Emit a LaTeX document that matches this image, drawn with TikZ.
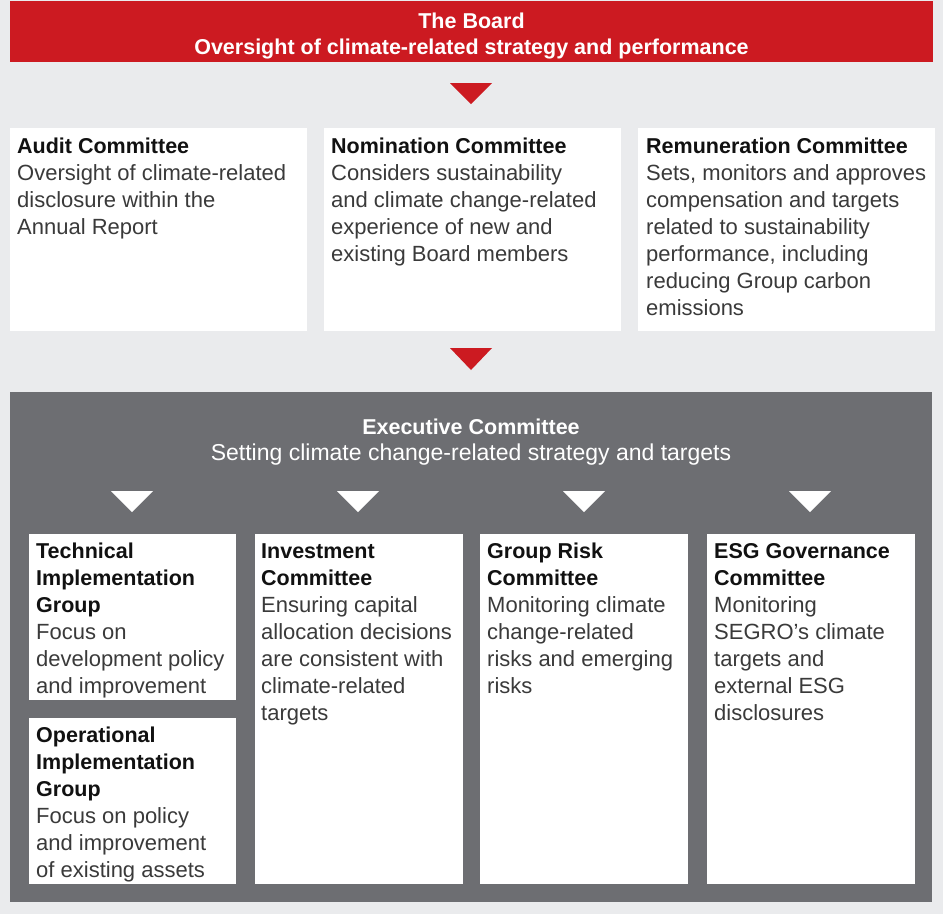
\documentclass[tikz,border=0pt]{standalone}
\usepackage{fontspec}
\setmainfont{Liberation Sans}
\usetikzlibrary{calc}

\definecolor{pagebg}{HTML}{EAEBED}
\definecolor{boardred}{HTML}{CC1A21}
\definecolor{execgray}{HTML}{6D6E72}
\definecolor{bodytext}{HTML}{3A3A3A}
\definecolor{headtext}{HTML}{111111}

% bold heading line inside a card
\newcommand\cardhead[1]{{\bfseries\fontsize{21.5}{27}\selectfont\color{headtext}#1}}

\begin{document}
\begin{tikzpicture}[x=1pt,y=-1pt,
  panel/.style={fill=#1, draw=none, inner sep=0pt, outer sep=0pt, anchor=north west},
  card/.style={panel=white},
  cardtext/.style={anchor=north west, inner sep=0pt, align=left,
    text=bodytext, font=\fontsize{22}{27}\selectfont},
  headline/.style={anchor=north, inner sep=0pt, align=center,
    text=white, font=\bfseries\fontsize{21.5}{26}\selectfont},
  redtri/.style={fill=boardred, draw=none},
  whitetri/.style={fill=white, draw=none}
]
% page
\useasboundingbox (0,0) rectangle (943,914);
\fill[pagebg] (0,0) rectangle (943,914);

% the Board
\node[panel=boardred, minimum width=923pt, minimum height=61pt] (board) at (10,1) {};
\node[headline] (board-t) at ($(board.north)+(0,8.6)$)
  {\strut The Board\\Oversight of climate-related strategy and performance};

% board committees
\node[card, minimum width=297pt, minimum height=203pt] (audit) at (10,128) {};
\node[card, minimum width=297pt, minimum height=203pt] (nomination) at (324,128) {};
\node[card, minimum width=297pt, minimum height=203pt] (remuneration) at (638,128) {};

\node[cardtext] (audit-t) at ($(audit.north west)+(7,6.1)$)
  {\strut\cardhead{Audit Committee}\\
   Oversight of climate-related\\disclosure within the\\Annual Report};
\node[cardtext] (nomination-t) at ($(nomination.north west)+(7,6.1)$)
  {\strut\cardhead{Nomination Committee}\\
   Considers sustainability\\and climate change-related\\experience of new and\\existing Board members};
\node[cardtext] (remuneration-t) at ($(remuneration.north west)+(8,6.1)$)
  {\strut\cardhead{Remuneration Committee}\\
   Sets, monitors and approves\\compensation and targets\\related to sustainability\\
   performance, including\\reducing Group carbon\\emissions};

% arrows from the Board
\fill[redtri] (450,83) -- (492,83) -- (471,104) -- cycle;
\fill[redtri] (450,348) -- (492,348) -- (471,370) -- cycle;

% Executive Committee
\node[panel=execgray, minimum width=922pt, minimum height=510pt] (exec) at (10,392) {};
\node[headline] (exec-t) at ($(exec.north)+(0,23.6)$)
  {\strut Executive Committee\\\mdseries\fontsize{23}{26}\selectfont Setting climate change-related strategy and targets};

\foreach \cx in {132,358,584,810}
  \fill[whitetri] (\cx-21,491) -- (\cx+21,491) -- (\cx,512) -- cycle;

% executive sub-committees
\node[card, minimum width=207pt, minimum height=166pt] (technical) at (29,534) {};
\node[card, minimum width=207pt, minimum height=166pt] (operational) at (29,718) {};
\node[card, minimum width=208pt, minimum height=350pt] (investment) at (255,534) {};
\node[card, minimum width=208pt, minimum height=350pt] (risk) at (480,534) {};
\node[card, minimum width=208pt, minimum height=350pt] (esg) at (707,534) {};

\node[cardtext] (technical-t) at ($(technical.north west)+(7,5.1)$)
  {\strut\cardhead{Technical}\\\cardhead{Implementation}\\\cardhead{Group}\\
   Focus on\\development policy\\and improvement};
\node[cardtext] (operational-t) at ($(operational.north west)+(7,5.1)$)
  {\strut\cardhead{Operational}\\\cardhead{Implementation}\\\cardhead{Group}\\
   Focus on policy\\and improvement\\of existing assets};
\node[cardtext] (investment-t) at ($(investment.north west)+(6,5.1)$)
  {\strut\cardhead{Investment}\\\cardhead{Committee}\\
   Ensuring capital\\allocation decisions\\are consistent with\\climate-related\\targets};
\node[cardtext] (risk-t) at ($(risk.north west)+(7,5.1)$)
  {\strut\cardhead{Group Risk}\\\cardhead{Committee}\\
   Monitoring climate\\change-related\\risks and emerging\\risks};
\node[cardtext] (esg-t) at ($(esg.north west)+(7,5.1)$)
  {\strut\cardhead{ESG Governance}\\\cardhead{Committee}\\
   Monitoring\\SEGRO’s climate\\targets and\\external ESG\\disclosures};
\end{tikzpicture}
\end{document}
